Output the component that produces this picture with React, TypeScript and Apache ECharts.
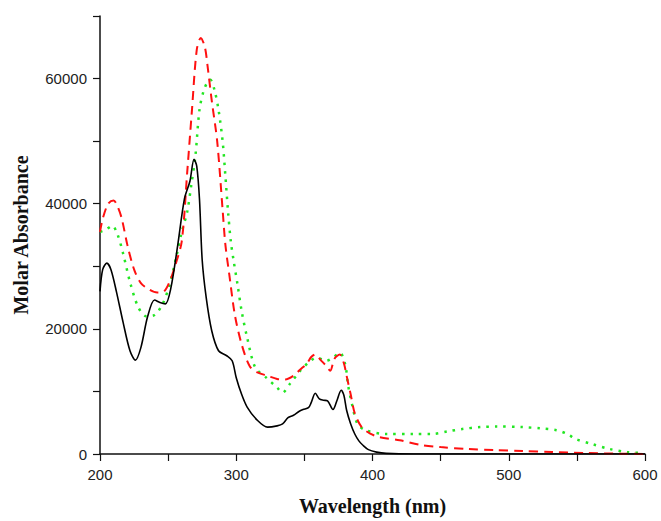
import React, { useEffect, useRef } from "react";
import * as echarts from "echarts";

// Wavelength (nm) and molar absorbance values for each spectrum
const blackX = [200, 202, 205, 208, 212, 217, 222, 226, 230, 235, 240, 244, 248, 252, 257, 262, 266, 269, 271, 273, 275, 278, 282, 287, 293, 297, 300, 304, 308, 315, 323, 330, 334, 338, 342, 346, 349, 353, 355, 358, 361, 364, 367, 371, 374, 377, 379, 381, 384, 387, 390, 393, 397, 403, 410, 430, 500, 600];
const blackY = [26000, 29500, 30500, 29500, 26000, 21000, 16500, 15000, 17000, 22000, 24600, 24200, 24000, 26500, 33300, 40800, 43600, 47100, 46000, 40800, 31000, 24900, 19700, 16500, 15700, 14900, 12200, 9500, 7500, 5500, 4300, 4500, 4800, 5800, 6200, 6800, 7100, 7400, 8200, 9700, 8800, 8600, 8500, 7100, 8600, 10200, 9400, 7000, 4800, 3200, 2100, 1400, 700, 300, 100, 0, 0, 0];

const redX = [200, 202, 206, 210, 213, 216, 220, 225, 230, 236, 242, 247, 251, 255, 260, 264, 267.5, 271, 274, 277, 279, 282, 286, 290, 292, 295, 299, 304, 310, 316, 323, 330, 336, 342, 347, 352, 355, 358, 362, 366, 369, 372, 376, 379, 381, 384, 387, 392, 398, 405, 420, 435, 450, 470, 490, 510, 532, 557, 580, 600];
const redY = [35500, 37600, 40000, 40500, 39500, 37600, 33500, 29500, 27300, 26300, 25800, 26000, 27500, 30000, 34000, 45000, 55000, 64600, 66500, 65000, 61900, 56500, 50000, 39000, 33500, 28500, 22200, 17500, 14000, 13000, 12500, 12000, 11900, 12500, 13500, 14500, 15500, 15900, 15000, 14100, 13300, 15200, 15900, 14500, 12500, 9500, 6500, 4300, 3300, 2700, 2200, 1450, 1100, 800, 630, 480, 320, 160, 60, 0];

const greenX = [200, 204, 209, 213, 217, 222, 228, 234, 240, 246, 251, 256, 260, 264, 267, 270, 273, 276, 279, 281, 284, 287, 290, 292, 294, 296, 298, 301, 304, 308, 314, 322, 330, 334, 339, 347, 353, 359, 366, 371, 376, 380, 382, 385, 389, 395, 410, 430, 444, 455, 466, 479, 491, 510, 523, 535, 543, 549, 561, 574, 587, 599];
const greenY = [35500, 35800, 36500, 35000, 32000, 27500, 23500, 22000, 22200, 24000, 27000, 31500, 35500, 38700, 43000, 47600, 55000, 58000, 59500, 59800, 58200, 55000, 50000, 44500, 38700, 34000, 31000, 27000, 22800, 18600, 13800, 12200, 10600, 9800, 11100, 13300, 14600, 15400, 14900, 15400, 16200, 14300, 11100, 7900, 4800, 3800, 3200, 3200, 3200, 3600, 4000, 4300, 4400, 4300, 4100, 3800, 3200, 2400, 1600, 800, 300, 150];

const xTickLabels = [200, 300, 400, 500, 600];
const yTickLabels = [0, 20000, 40000, 60000];

const zip = (xs: number[], ys: number[]) => xs.map((x, i) => [x, ys[i]]);

export default function App() {
  const ref = useRef<HTMLDivElement>(null);
  useEffect(() => {
    if (!ref.current) return;
    const chart = echarts.init(ref.current, null, { renderer: "svg" });
    const labelFont = "'Liberation Sans', Arial, sans-serif";
    const titleFont = "'Liberation Serif', 'Times New Roman', serif";
    chart.setOption({
      animation: false,
      backgroundColor: "#ffffff",
      grid: { left: 100, right: 16, top: 16, bottom: 64, containLabel: false },
      xAxis: {
        type: "value",
        min: 200,
        max: 600,
        interval: 50,
        name: "Wavelength (nm)",
        nameLocation: "middle",
        nameGap: 42,
        nameTextStyle: { fontFamily: titleFont, fontWeight: "bold", fontSize: 20, color: "#111" },
        axisLine: { show: true, lineStyle: { color: "#111", width: 1.5 } },
        axisTick: { show: true, inside: false, length: 7, lineStyle: { color: "#111", width: 1.2 } },
        axisLabel: {
          fontFamily: labelFont,
          fontSize: 15,
          color: "#222",
          margin: 13,
          formatter: (v: number) => (xTickLabels.includes(v) ? String(v) : ""),
        },
        splitLine: { show: false },
      },
      yAxis: {
        type: "value",
        min: 0,
        max: 70000,
        interval: 10000,
        name: "Molar Absorbance",
        nameLocation: "middle",
        nameGap: 69,
        nameTextStyle: { fontFamily: titleFont, fontWeight: "bold", fontSize: 20, color: "#111" },
        axisLine: { show: true, lineStyle: { color: "#111", width: 1.5 } },
        axisTick: { show: true, inside: false, length: 7, lineStyle: { color: "#111", width: 1.2 } },
        axisLabel: {
          fontFamily: labelFont,
          fontSize: 15,
          color: "#222",
          margin: 13,
          formatter: (v: number) => (yTickLabels.includes(v) ? String(v) : ""),
        },
        splitLine: { show: false },
      },
      series: [
        {
          type: "line",
          data: zip(greenX, greenY),
          showSymbol: false,
          smooth: 0.3,
          lineStyle: { color: "#22e622", width: 2.5, type: [2.5, 6] },
          z: 2,
        },
        {
          type: "line",
          data: zip(redX, redY),
          showSymbol: false,
          smooth: 0.3,
          lineStyle: { color: "#ff1010", width: 2, type: [9, 6] },
          z: 3,
        },
        {
          type: "line",
          data: zip(blackX, blackY),
          showSymbol: false,
          smooth: 0.3,
          lineStyle: { color: "#000000", width: 1.6 },
          z: 4,
        },
      ],
    });
    return () => chart.dispose();
  }, []);
  return (
    <div
      ref={ref}
      style={{ position: "fixed", left: 0, top: 0, width: 661, height: 521 }}
    />
  );
}
